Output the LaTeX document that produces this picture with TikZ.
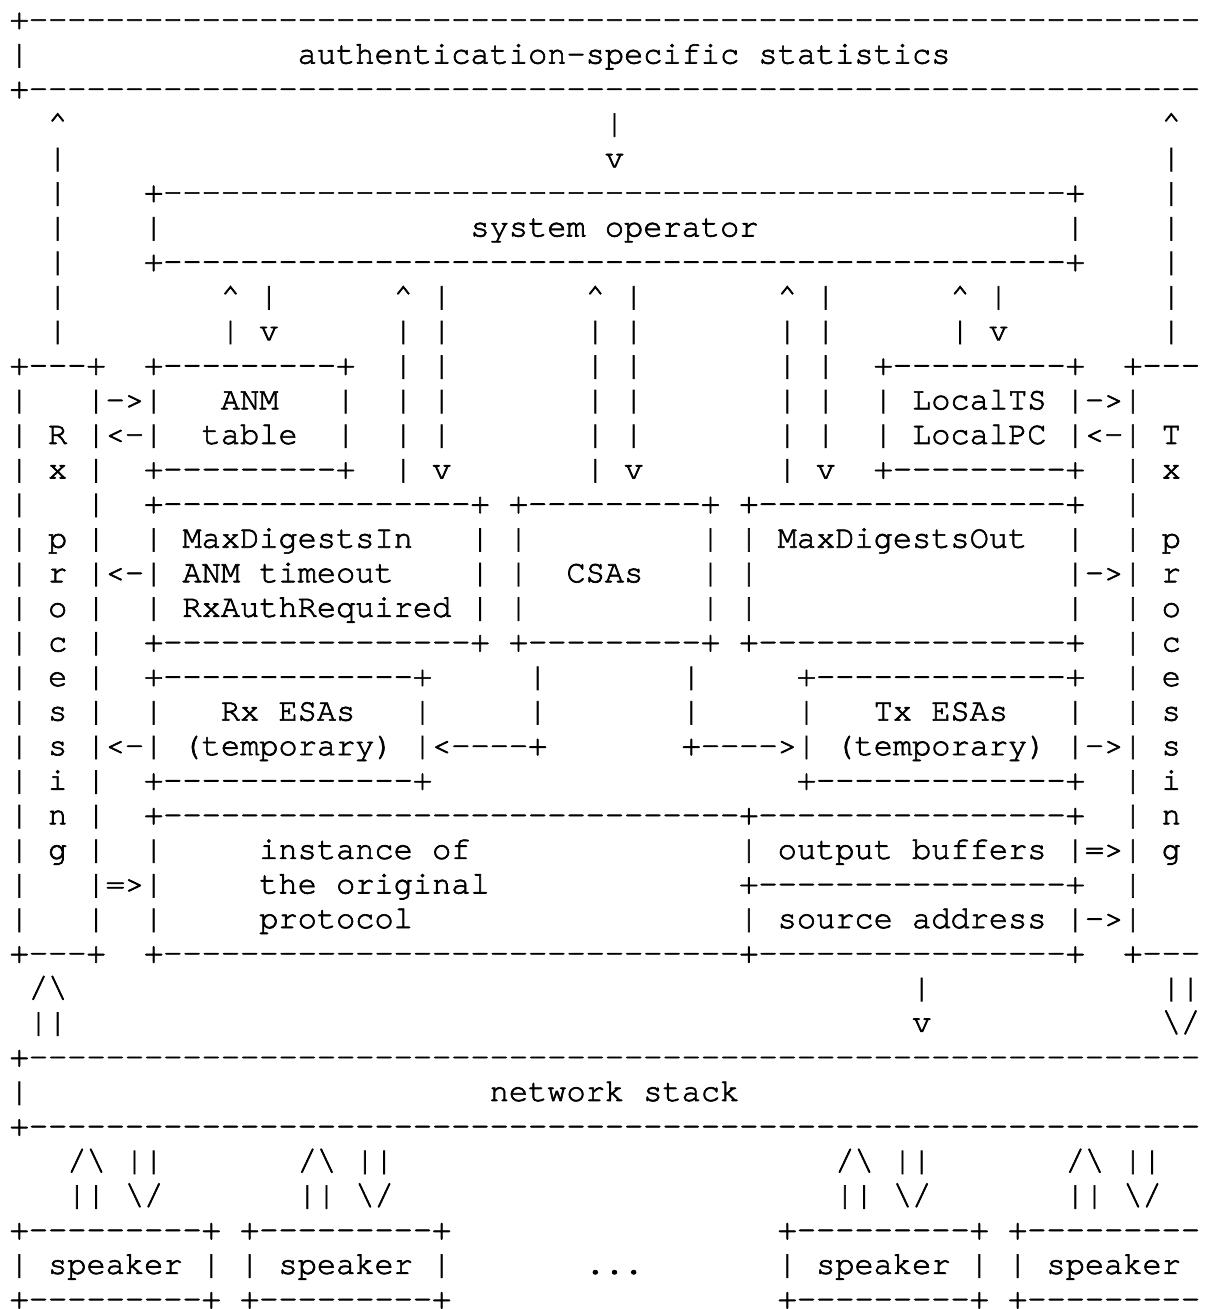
\documentclass[tikz,border=0pt]{standalone}
\usepackage{fontspec}
\setmonofont{TeX Gyre Cursor}[FakeBold=2,Ligatures=NoCommon]
\ExplSyntaxOn
\cs_new:Npn \ascdash #1 { \prg_replicate:nn {#1} {-} }
\cs_new:Npn \ascbox #1#2 { + \prg_replicate:nn {#2-#1-1} {-} + }
\cs_new:Npn \ascopen #1#2 { + \prg_replicate:nn {#2-#1} {-} }
\ExplSyntaxOff
\newcommand\ascup{\textasciicircum}
\newcommand\ascbs{\textbackslash}
% place text #3 on text line #1 (counted from top) starting at character column #2
\newcommand\ascat[3]{\node[asc] (L#1C#2) at ({9.7+19.2*#2},{1280.0-34.58*#1}) {#3};}
\begin{document}
\begin{tikzpicture}[x=1pt,y=1pt,
  asc/.style={anchor=base west, inner sep=0pt, outer sep=0pt, text depth=0pt,
    font=\ttfamily\fontsize{32}{34}\selectfont, text=black}]
\useasboundingbox (0,0) rectangle (1209,1309);
\fill[white] (0,0) rectangle (1209,1309);
% ---- top statistics box (cut at the right edge)
\ascat{0}{0}{\ascopen{0}{61}}
\ascat{1}{0}{|}\ascat{1}{15}{authentication-specific statistics}
\ascat{2}{0}{\ascopen{0}{61}}
% ---- arrows under statistics
\ascat{3}{2}{\ascup}\ascat{3}{31}{|}\ascat{3}{60}{\ascup}
\ascat{4}{31}{v}
\foreach \ii in {4,...,9} {\ascat{\ii}{2}{|}\ascat{\ii}{60}{|}}
% ---- system operator
\ascat{5}{7}{\ascbox{7}{55}}
\ascat{6}{7}{|}\ascat{6}{24}{system operator}\ascat{6}{55}{|}
\ascat{7}{7}{\ascbox{7}{55}}
% ---- arrows under system operator
\foreach \jj in {11,20,30,40,49} {\ascat{8}{\jj}{\ascup}}
\foreach \jj in {13,22,32,42,51} {\ascat{8}{\jj}{|}}
\foreach \jj in {11,20,22,30,32,40,42,49} {\ascat{9}{\jj}{|}}
\ascat{9}{13}{v}\ascat{9}{51}{v}
% ---- line 10
\ascat{10}{0}{\ascbox{0}{4}}\ascat{10}{7}{\ascbox{7}{17}}
\ascat{10}{45}{\ascbox{45}{55}}\ascat{10}{58}{\ascopen{58}{61}}
\foreach \ii in {10,11,12} {\foreach \jj in {20,22,30,32,40,42} {\ascat{\ii}{\jj}{|}}}
% ---- outer verticals of Rx / Tx processing boxes
\foreach \ii in {11,...,26} {\ascat{\ii}{0}{|}}
\foreach \ii in {13,14,15,17,18,19,20,22,23,24,26} {\ascat{\ii}{4}{|}}
\foreach \ii in {13,14,15,17,18,19,20,22,23,25} {\ascat{\ii}{58}{|}}
% ---- ANM table / LocalTS
\ascat{11}{4}{|->|}\ascat{11}{11}{ANM}\ascat{11}{17}{|}
\ascat{11}{45}{|}\ascat{11}{47}{LocalTS}\ascat{11}{55}{|->|}
\ascat{12}{2}{R}\ascat{12}{4}{|<-|}\ascat{12}{10}{table}\ascat{12}{17}{|}
\ascat{12}{45}{|}\ascat{12}{47}{LocalPC}\ascat{12}{55}{|<-|}\ascat{12}{60}{T}
\ascat{13}{2}{x}\ascat{13}{7}{\ascbox{7}{17}}
\ascat{13}{20}{|}\ascat{13}{22}{v}\ascat{13}{30}{|}\ascat{13}{32}{v}\ascat{13}{40}{|}\ascat{13}{42}{v}
\ascat{13}{45}{\ascbox{45}{55}}\ascat{13}{60}{x}
% ---- MaxDigestsIn / CSAs / MaxDigestsOut
\ascat{14}{7}{\ascbox{7}{24}}\ascat{14}{26}{\ascbox{26}{36}}\ascat{14}{38}{\ascbox{38}{55}}
\ascat{15}{2}{p}\ascat{15}{7}{|}\ascat{15}{9}{MaxDigestsIn}
\ascat{15}{24}{|}\ascat{15}{26}{|}\ascat{15}{36}{|}\ascat{15}{38}{|}
\ascat{15}{40}{MaxDigestsOut}\ascat{15}{55}{|}\ascat{15}{60}{p}
\ascat{16}{2}{r}\ascat{16}{4}{|<-|}\ascat{16}{9}{ANM timeout}
\ascat{16}{24}{|}\ascat{16}{26}{|}\ascat{16}{29}{CSAs}\ascat{16}{36}{|}\ascat{16}{38}{|}
\ascat{16}{55}{|->|}\ascat{16}{60}{r}
\ascat{17}{2}{o}\ascat{17}{7}{|}\ascat{17}{9}{RxAuthRequired}
\ascat{17}{24}{|}\ascat{17}{26}{|}\ascat{17}{36}{|}\ascat{17}{38}{|}\ascat{17}{55}{|}\ascat{17}{60}{o}
\ascat{18}{2}{c}\ascat{18}{7}{\ascbox{7}{24}}\ascat{18}{26}{\ascbox{26}{36}}\ascat{18}{38}{\ascbox{38}{55}}\ascat{18}{60}{c}
% ---- Rx / Tx ESAs
\ascat{19}{2}{e}\ascat{19}{7}{\ascbox{7}{21}}\ascat{19}{27}{|}\ascat{19}{35}{|}\ascat{19}{41}{\ascbox{41}{55}}\ascat{19}{60}{e}
\ascat{20}{2}{s}\ascat{20}{7}{|}\ascat{20}{11}{Rx ESAs}\ascat{20}{21}{|}\ascat{20}{27}{|}\ascat{20}{35}{|}
\ascat{20}{41}{|}\ascat{20}{45}{Tx ESAs}\ascat{20}{55}{|}\ascat{20}{60}{s}
\ascat{21}{2}{s}\ascat{21}{4}{|<-|}\ascat{21}{9}{(temporary)}\ascat{21}{21}{|<----+}
\ascat{21}{35}{+---->|}\ascat{21}{43}{(temporary)}\ascat{21}{55}{|->|}\ascat{21}{60}{s}
\ascat{22}{2}{i}\ascat{22}{7}{\ascbox{7}{21}}\ascat{22}{41}{\ascbox{41}{55}}\ascat{22}{60}{i}
% ---- protocol instance
\ascat{23}{2}{n}\ascat{23}{7}{\ascbox{7}{38}}\ascat{23}{39}{\ascdash{16}+}\ascat{23}{60}{n}
\ascat{24}{2}{g}\ascat{24}{7}{|}\ascat{24}{13}{instance of}\ascat{24}{38}{|}
\ascat{24}{40}{output buffers}\ascat{24}{55}{|=>|}\ascat{24}{60}{g}
\ascat{25}{4}{|=>|}\ascat{25}{13}{the original}\ascat{25}{38}{\ascbox{38}{55}}
\ascat{26}{7}{|}\ascat{26}{13}{protocol}\ascat{26}{38}{|}\ascat{26}{40}{source address}\ascat{26}{55}{|->|}
\ascat{27}{0}{\ascbox{0}{4}}\ascat{27}{7}{\ascbox{7}{38}}\ascat{27}{39}{\ascdash{16}+}\ascat{27}{58}{\ascopen{58}{61}}
% ---- to / from network stack
\ascat{28}{1}{/\ascbs}\ascat{28}{47}{|}\ascat{28}{60}{||}
\ascat{29}{1}{||}\ascat{29}{47}{v}\ascat{29}{60}{\ascbs/}
\ascat{30}{0}{\ascopen{0}{61}}
\ascat{31}{0}{|}\ascat{31}{25}{network stack}
\ascat{32}{0}{\ascopen{0}{61}}
% ---- speakers
\foreach \jj in {3,15,43,55} {\ascat{33}{\jj}{/\ascbs}\ascat{34}{\jj}{||}}
\foreach \jj in {6,18,46,58} {\ascat{33}{\jj}{||}\ascat{34}{\jj}{\ascbs/}}
\foreach \jj/\kk in {0/10,12/22,40/50} {
  \ascat{35}{\jj}{\ascbox{\jj}{\kk}}
  \ascat{36}{\jj}{|}\ascat{36}{\kk}{|}
  \ascat{37}{\jj}{\ascbox{\jj}{\kk}}}
\ascat{35}{52}{\ascopen{52}{61}}\ascat{36}{52}{|}\ascat{37}{52}{\ascopen{52}{61}}
\foreach \jj in {2,14,42,54} {\ascat{36}{\jj}{speaker}}
\ascat{36}{30}{...}
\end{tikzpicture}
\end{document}
